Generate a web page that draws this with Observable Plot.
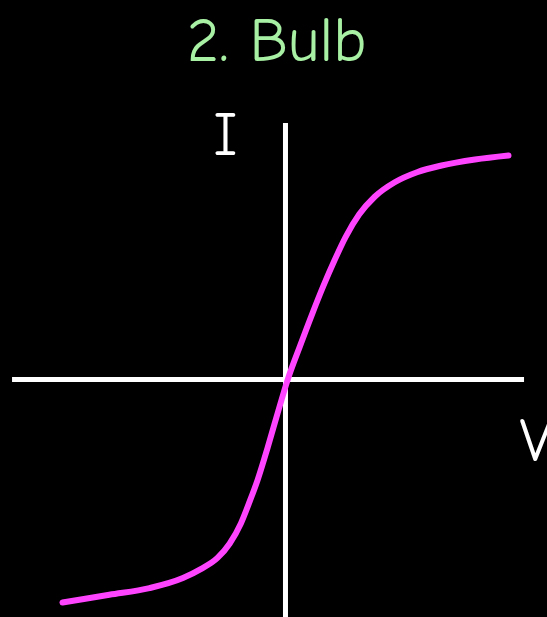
<!DOCTYPE html>
<html>
<head>
<meta charset="utf-8">
<script src="https://cdn.jsdelivr.net/npm/d3@7"></script>
<script src="https://cdn.jsdelivr.net/npm/@observablehq/plot@0.6"></script>
<style>
  html, body { margin: 0; padding: 0; background: #000; overflow: hidden; }
</style>
</head>
<body>
<div id="chart"></div>
<script>
// Curve of current I against voltage V for a filament bulb
const voltage = [-10.0, -7.9, -6.1, -4.6, -3.8, -3.05, -2.5, -2.0, -1.6, -1.25, -0.8, -0.35, 0.1, 0.65, 1.2, 1.7, 2.2, 2.7, 3.3, 4.0, 4.9, 5.9, 7.0, 8.5, 10.0];
const current = [-10.0, -9.65, -9.35, -8.9, -8.5, -8.0, -7.35, -6.45, -5.45, -4.5, -3.05, -1.5, 0.0, 1.5, 2.95, 4.2, 5.35, 6.4, 7.4, 8.2, 8.85, 9.3, 9.6, 9.87, 10.05];

const titleText = "2. Bulb";
const xLabel = "V";
const yLabel = "I";

const curve = voltage.map((v, i) => ({V: v, I: current[i]}));

const font = "'Comic Sans MS', 'Comic Neue', Lato, sans-serif";

const chart = Plot.plot({
  width: 547,
  height: 617,
  marginTop: 0, marginBottom: 0, marginLeft: 0, marginRight: 0,
  style: {background: "#000", fontFamily: font},
  x: {domain: [-12.78, 11.75], axis: null},
  y: {domain: [-10.67, 17.0], axis: null},
  marks: [
    Plot.ruleY([0], {x1: -12.24, x2: 10.72, stroke: "#fff", strokeWidth: 5}),
    Plot.ruleX([0], {y1: -11, y2: 11.48, stroke: "#fff", strokeWidth: 5}),
    Plot.line(curve, {x: "V", y: "I", stroke: "#ff44ff", strokeWidth: 6, curve: "monotone-x"}),
    Plot.text([titleText], {x: -0.4, y: 14.3, text: d => d, fill: "#a8f0a4", fontSize: 62, textAnchor: "middle", lineAnchor: "bottom"}),
    Plot.text([yLabel], {x: -2.69, y: 10.09, text: d => d, fill: "#fff", fontSize: 62, textAnchor: "middle", lineAnchor: "bottom"}),
    Plot.text([xLabel], {x: 10.49, y: -3.63, text: d => d, fill: "#fff", fontSize: 62, textAnchor: "start", lineAnchor: "bottom"})
  ]
});
document.getElementById("chart").appendChild(chart);
</script>
</body>
</html>
